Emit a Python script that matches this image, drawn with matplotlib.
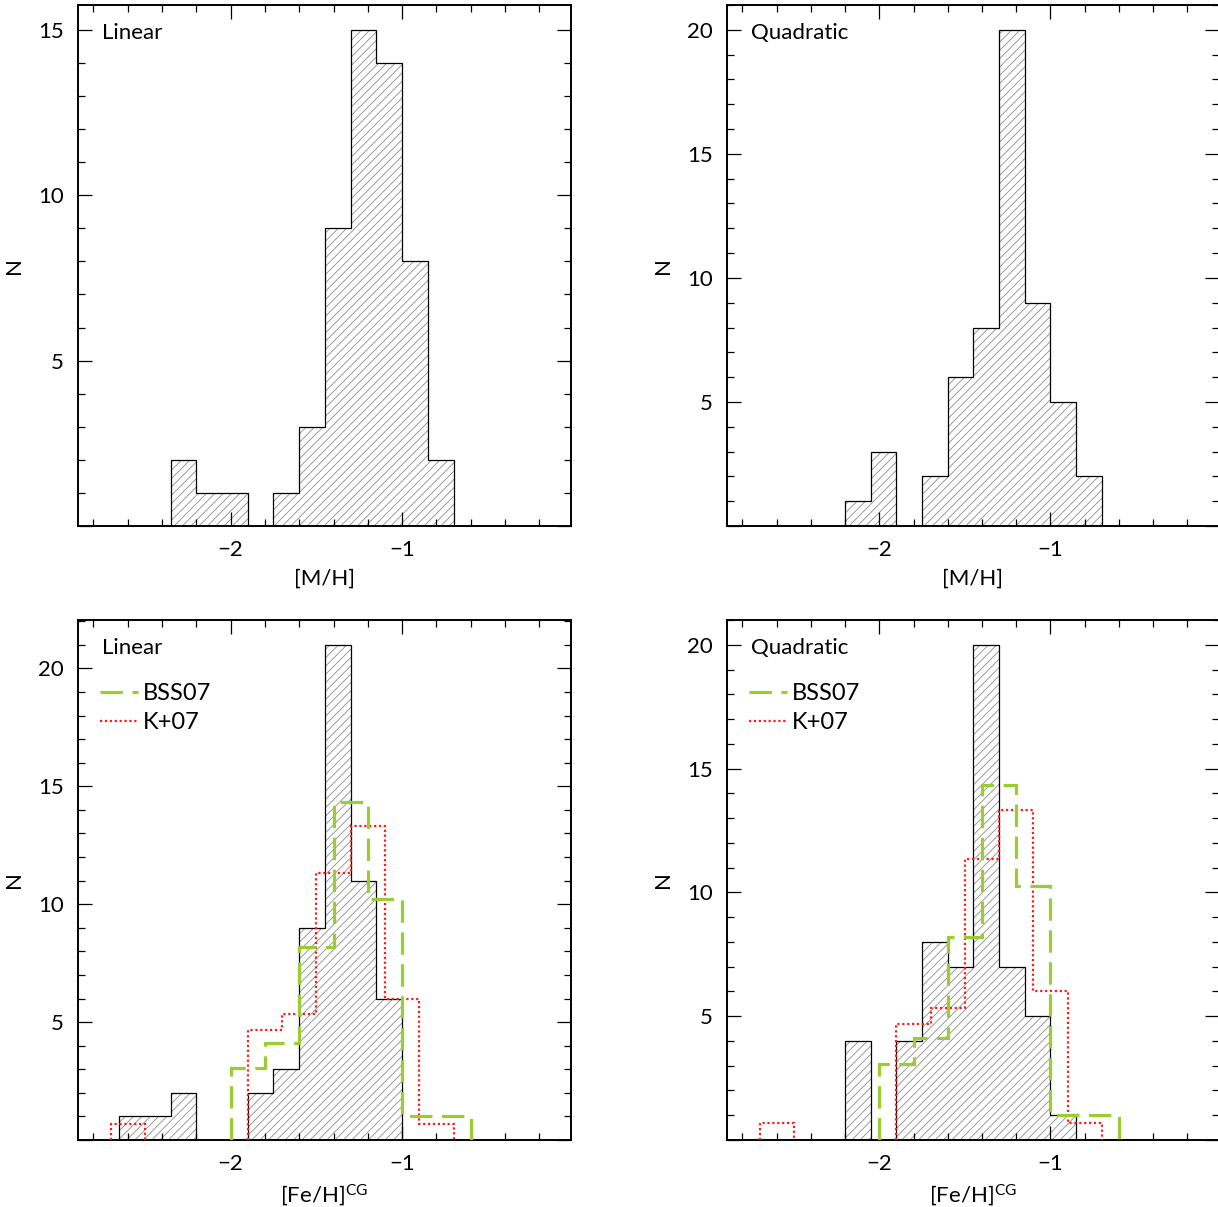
import matplotlib
matplotlib.use('Agg')
import matplotlib.pyplot as plt
from matplotlib.ticker import MultipleLocator, FuncFormatter
from matplotlib.lines import Line2D

# Histogramas de metalicidade (contagens por bin)
bordas_mh_lin = [-2.35, -2.2, -2.05, -1.9, -1.75, -1.6, -1.45, -1.3, -1.15, -1.0, -0.85, -0.7]
n_mh_lin = [2, 1, 1, 0, 1, 3, 9, 15, 14, 8, 2]

bordas_mh_quad = [-2.2, -2.05, -1.9, -1.75, -1.6, -1.45, -1.3, -1.15, -1.0, -0.85, -0.7]
n_mh_quad = [1, 3, 0, 2, 6, 8, 20, 9, 5, 2]

bordas_fe_lin = [-2.65, -2.5, -2.35, -2.2, -2.05, -1.9, -1.75, -1.6, -1.45, -1.3, -1.15, -1.0]
n_fe_lin = [1, 1, 2, 0, 0, 2, 3, 9, 21, 11, 6]

bordas_fe_quad = [-2.2, -2.05, -1.9, -1.75, -1.6, -1.45, -1.3, -1.15, -1.0, -0.85]
n_fe_quad = [4, 0, 4, 8, 7, 20, 7, 5, 1]

# Distribuicoes da literatura, normalizadas pela area
bordas_bss07 = [-2.0, -1.8, -1.6, -1.4, -1.2, -1.0, -0.8, -0.6]
n_bss07 = [3.07, 4.10, 8.20, 14.34, 10.24, 1.02, 1.02]

bordas_k07 = [-2.7, -2.5, -2.3, -2.1, -1.9, -1.7, -1.5, -1.3, -1.1, -0.9, -0.7]
n_k07 = [0.67, 0, 0, 0, 4.67, 5.33, 11.33, 13.33, 6.0, 0.67]

plt.rcParams['font.family'] = ['Lato', 'DejaVu Sans']
plt.rcParams['mathtext.default'] = 'regular'
plt.rcParams['hatch.linewidth'] = 0.6

VERDE = '#9acd32'
VERMELHO = '#ff1a1a'
FONTE = 16

fig = plt.figure(figsize=(12.18, 12.07), dpi=100)
W, H = 1218.0, 1207.0


def eixo(x0, x1, y0, y1):
    return fig.add_axes([x0 / W, 1 - y1 / H, (x1 - x0) / W, (y1 - y0) / H])


ax_tl = eixo(78, 571, 5, 526)
ax_tr = eixo(727, 1219, 5, 526)
ax_bl = eixo(78, 571, 620, 1140)
ax_br = eixo(727, 1219, 620, 1140)


def trechos(bordas, n):
    # separa o histograma em blocos contiguos sem bins vazios
    blocos = []
    i = 0
    while i < len(n):
        if n[i] == 0:
            i += 1
            continue
        j = i
        while j < len(n) and n[j] != 0:
            j += 1
        blocos.append((bordas[i:j + 1], n[i:j]))
        i = j
    return blocos


def histograma(ax, bordas, n):
    for b, v in trechos(bordas, n):
        ax.stairs(v, b, fill=True, facecolor='none', edgecolor='#8c8c8c',
                  hatch='////', linewidth=0, zorder=1)
        ax.stairs(v, b, color='black', linewidth=0.9, zorder=2)
    ax.set_ylim(0, 1.05 * max(n))


def literatura(ax):
    for b, v in trechos(bordas_k07, n_k07):
        ax.stairs(v, b, color=VERMELHO, linewidth=1.6,
                  linestyle=(0, (1, 1.2)), zorder=3)
    for b, v in trechos(bordas_bss07, n_bss07):
        ax.stairs(v, b, color=VERDE, linewidth=2.3,
                  linestyle=(0, (7, 3)), zorder=4)
    handles = [Line2D([], [], color=VERDE, lw=2.3, linestyle=(0, (7, 3))),
               Line2D([], [], color=VERMELHO, lw=1.6, linestyle=(0, (1, 1.2)))]
    ax.legend(handles, ['BSS07', 'K+07'], loc='upper left',
              bbox_to_anchor=(0.045, 0.878), frameon=False, fontsize=17,
              handlelength=1.6, handletextpad=0.21, labelspacing=0.34,
              borderaxespad=0.0, borderpad=0.0)


def sem_zero(v, pos):
    return '' if abs(v) < 1e-9 else f'{v:g}'.replace('-', '\u2212')


def estilo(ax, titulo, rotulo_x):
    ax.set_xlim(-2.89, -0.015)
    ax.xaxis.set_major_locator(MultipleLocator(1))
    ax.xaxis.set_minor_locator(MultipleLocator(0.2))
    ax.yaxis.set_major_locator(MultipleLocator(5))
    ax.yaxis.set_minor_locator(MultipleLocator(1))
    ax.yaxis.set_major_formatter(FuncFormatter(sem_zero))
    ax.tick_params(which='both', direction='in', top=True, right=True,
                   width=0.9, labelsize=FONTE)
    ax.tick_params(which='major', length=10, pad=10)
    ax.tick_params(which='minor', length=5)
    for s in ax.spines.values():
        s.set_linewidth(1.4)
    ax.set_xlabel(rotulo_x, fontsize=FONTE, labelpad=6)
    ax.set_ylabel('N', fontsize=FONTE, labelpad=10)
    ax.text(0.048, 0.946, titulo, transform=ax.transAxes, fontsize=FONTE,
            va='center', ha='left')


histograma(ax_tl, bordas_mh_lin, n_mh_lin)
histograma(ax_tr, bordas_mh_quad, n_mh_quad)
histograma(ax_bl, bordas_fe_lin, n_fe_lin)
histograma(ax_br, bordas_fe_quad, n_fe_quad)
literatura(ax_bl)
literatura(ax_br)

estilo(ax_tl, 'Linear', '[M/H]')
estilo(ax_tr, 'Quadratic', '[M/H]')
estilo(ax_bl, 'Linear', '[Fe/H]$^{CG}$')
estilo(ax_br, 'Quadratic', '[Fe/H]$^{CG}$')

fig.savefig('out.png', dpi=100)
